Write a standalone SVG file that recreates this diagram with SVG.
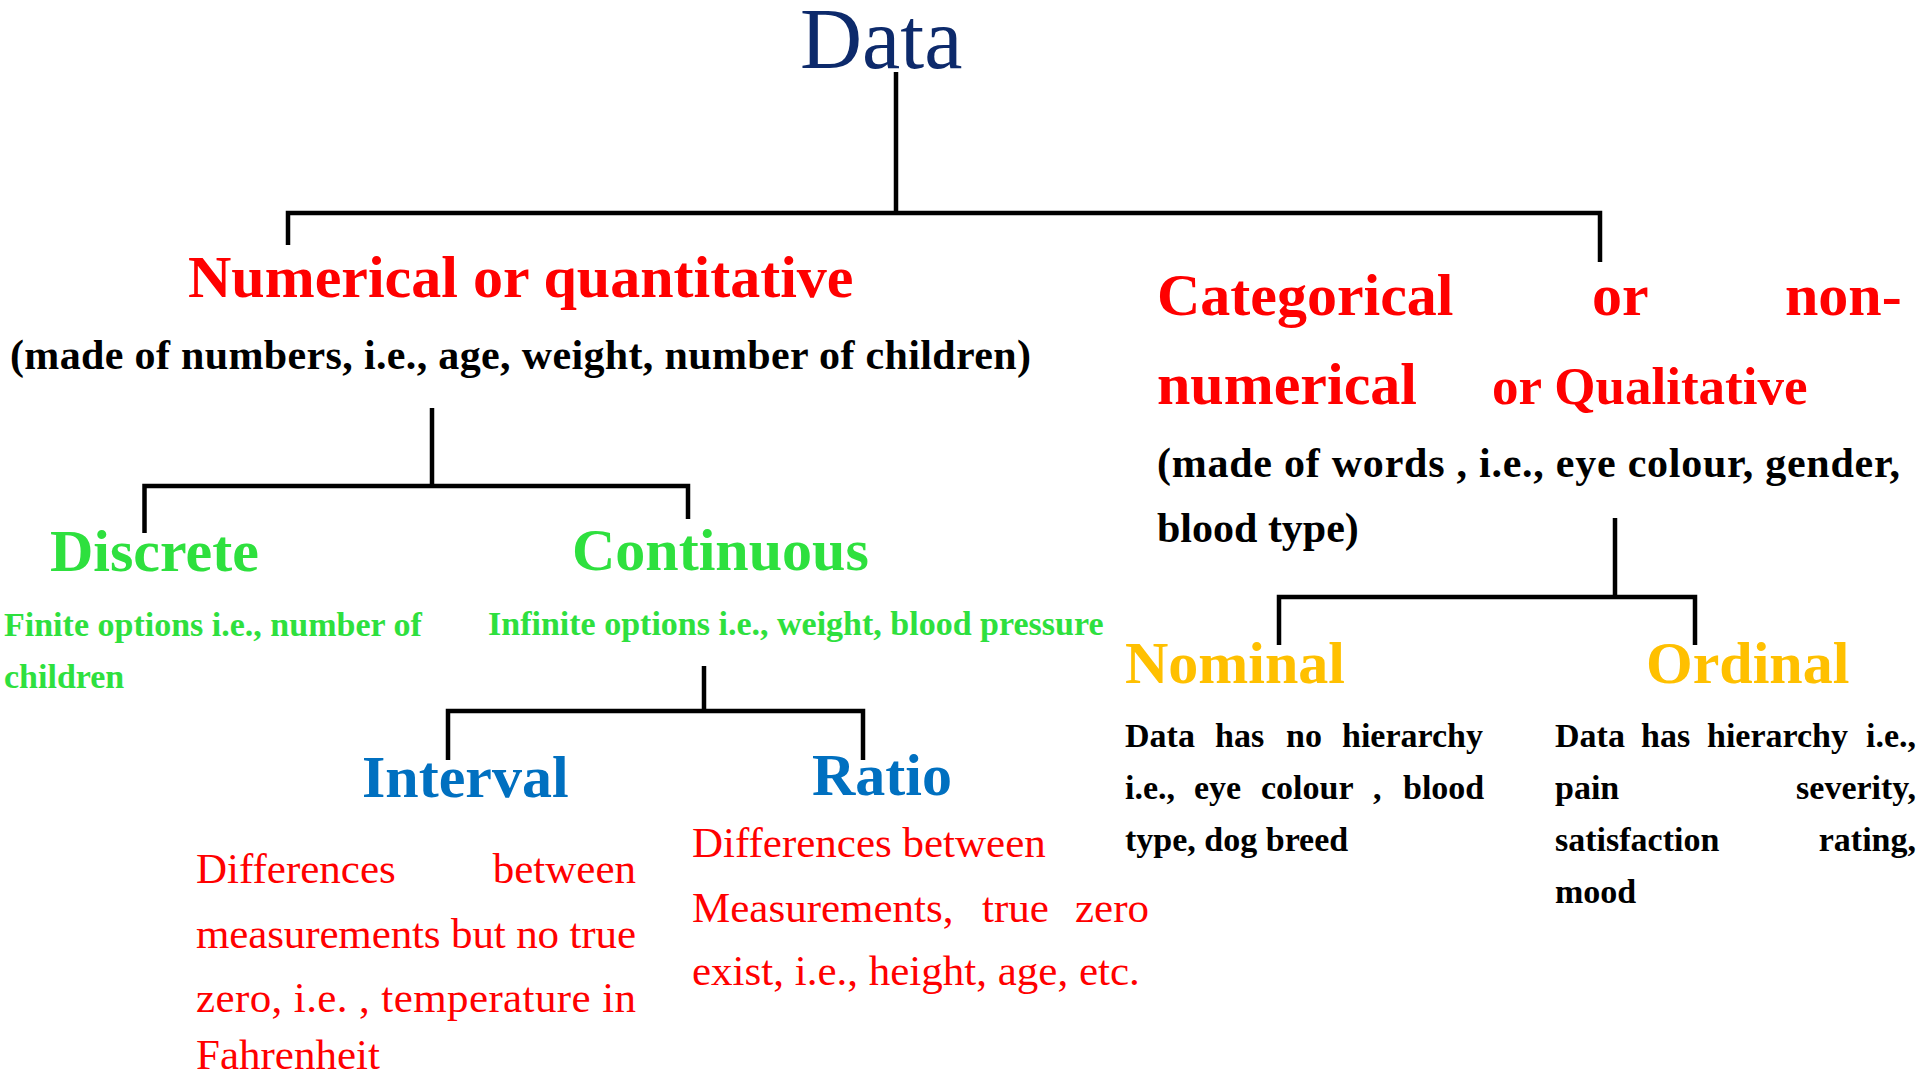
<svg xmlns="http://www.w3.org/2000/svg" width="1920" height="1079" viewBox="0 0 1920 1079">
<style>
text{font-family:"Liberation Serif","Times New Roman",serif}
.h{font-size:60px;font-weight:bold}
.red{fill:#FF0000}
.grn{fill:#2EE03E}
.blu{fill:#0070C0}
.yel{fill:#FFC000}
.blk{fill:#000000}
.d42{font-size:42px;font-weight:bold}
.d34{font-size:34px;font-weight:bold}
.r43{font-size:43px;font-weight:normal}
.conn path{fill:none;stroke:#000;stroke-width:4.5;stroke-linejoin:miter}
</style>
<rect width="1920" height="1079" fill="#FFFFFF"/>
<g class="conn" id="connectors">
<path d="M896,72 V213"/>
<path d="M288,245 V213 H1600 V262"/>
<path d="M432,408 V486"/>
<path d="M144.5,533 V486 H688 V519"/>
<path d="M704,666 V711"/>
<path d="M448,760 V711 H863 V760"/>
<path d="M1615,518 V597"/>
<path d="M1279,645 V597 H1695 V645"/>
</g>
<g id="data">
<text x="800" y="68" font-size="86" fill="#0D2A6B">Data</text>
</g>
<g id="numerical">
<text class="h red" x="188" y="297">Numerical or quantitative</text>
<text class="d42 blk" x="10" y="369" textLength="1021" lengthAdjust="spacing">(made of numbers, i.e., age, weight, number of children)</text>
</g>
<g id="categorical">
<text class="h red" y="315"><tspan x="1157">Categorical</tspan><tspan x="1592">or</tspan><tspan x="1785">non-</tspan></text>
<text class="h red" x="1157" y="404">numerical</text>
<text class="red" x="1492" y="404" font-size="53" font-weight="bold">or Qualitative</text>
<text class="d42 blk" x="1157" y="477" textLength="743" lengthAdjust="spacing">(made of words , i.e., eye colour, gender,</text>
<text class="d42 blk" x="1157" y="542">blood type)</text>
</g>
<g id="discrete">
<text class="h grn" x="50" y="571">Discrete</text>
<text class="d34 grn" x="4" y="636">Finite options i.e., number of</text>
<text class="d34 grn" x="4" y="688">children</text>
</g>
<g id="continuous">
<text class="h grn" x="572" y="570">Continuous</text>
<text class="d34 grn" x="488" y="635">Infinite options i.e., weight, blood pressure</text>
</g>
<g id="interval">
<text class="h blu" x="362" y="797">Interval</text>
<text class="r43 red" x="196" y="883">Differences</text>
<text class="r43 red" x="636" y="883" text-anchor="end">between</text>
<text class="r43 red" x="196" y="948" textLength="440" lengthAdjust="spacing">measurements but no true</text>
<text class="r43 red" x="196" y="1012" textLength="440" lengthAdjust="spacing">zero, i.e. , temperature in</text>
<text class="r43 red" x="196" y="1069">Fahrenheit</text>
</g>
<g id="ratio">
<text class="h blu" x="812" y="795">Ratio</text>
<text class="r43 red" x="692" y="857">Differences between</text>
<text class="r43 red" y="922"><tspan x="692">Measurements,</tspan><tspan x="982">true</tspan><tspan x="1075">zero</tspan></text>
<text class="r43 red" x="692" y="985">exist, i.e., height, age, etc.</text>
</g>
<g id="nominal">
<text class="h yel" x="1125" y="683">Nominal</text>
<text class="d34 blk" y="747"><tspan x="1125">Data</tspan><tspan x="1215">has</tspan><tspan x="1286">no</tspan><tspan x="1342">hierarchy</tspan></text>
<text class="d34 blk" y="799"><tspan x="1125">i.e.,</tspan><tspan x="1194">eye</tspan><tspan x="1261">colour</tspan><tspan x="1373">,</tspan><tspan x="1403">blood</tspan></text>
<text class="d34 blk" x="1125" y="851">type, dog breed</text>
</g>
<g id="ordinal">
<text class="h yel" x="1646" y="683">Ordinal</text>
<text class="d34 blk" y="747"><tspan x="1555">Data</tspan><tspan x="1641">has</tspan><tspan x="1707">hierarchy</tspan><tspan x="1866">i.e.,</tspan></text>
<text class="d34 blk" x="1555" y="799">pain</text>
<text class="d34 blk" x="1916" y="799" text-anchor="end">severity,</text>
<text class="d34 blk" x="1555" y="851">satisfaction</text>
<text class="d34 blk" x="1916" y="851" text-anchor="end">rating,</text>
<text class="d34 blk" x="1555" y="903">mood</text>
</g>
</svg>
